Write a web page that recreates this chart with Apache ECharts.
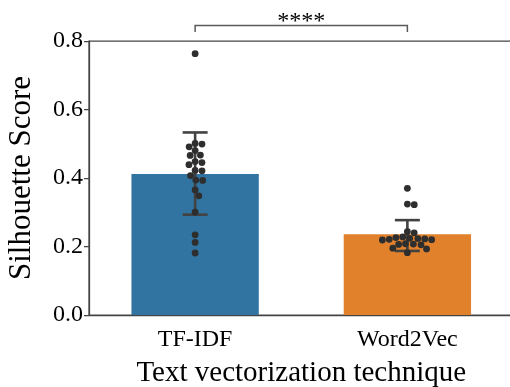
<!DOCTYPE html>
<html><head><meta charset="utf-8">
<script src="https://cdn.jsdelivr.net/npm/echarts@6/dist/echarts.min.js"></script>
<style>html,body{margin:0;padding:0;background:#fff}#c{width:510px;height:387px}</style>
</head><body><div id="c"></div>
<script>
const categories = ['TF-IDF', 'Word2Vec'];
const barMeans = [0.412, 0.236];
const errLow = [0.293, 0.187];
const errHigh = [0.533, 0.277];
const tfidfPoints = [0.763, 0.501, 0.499, 0.491, 0.480, 0.467, 0.466, 0.448, 0.445, 0.439,
  0.422, 0.421, 0.407, 0.394, 0.393, 0.365, 0.348, 0.300, 0.234, 0.212, 0.181];
const word2vecPoints = [0.370, 0.324, 0.322, 0.243, 0.240, 0.226, 0.222, 0.219, 0.224, 0.220,
  0.228, 0.221, 0.223, 0.208, 0.206, 0.207, 0.205, 0.195, 0.193, 0.182];
const yTicks = [0.0, 0.2, 0.4, 0.6, 0.8];
const sigLabel = '****';
const sigLevel = 0.845;
const xName = 'Text vectorization technique';
const yName = 'Silhouette Score';

const barColors = ['#3274a1', '#e1812c'];
const FONT = 'Liberation Serif';
const AX = '#444444';

const chart = echarts.init(document.getElementById('c'), null, {renderer: 'canvas'});

function baseOption(scatterData) {
  return {
    animation: false,
    grid: {left: 89, right: -3.5, top: 41, bottom: 72, containLabel: false, outerBoundsMode: 'none',
      show: true, borderColor: AX, borderWidth: 1.25, backgroundColor: 'transparent'},
    xAxis: [{
      type: 'category', data: categories,
      axisLine: {onZero: false, lineStyle: {color: AX, width: 1.25}},
      axisTick: {alignWithLabel: true, length: 5, lineStyle: {color: AX, width: 1.25}},
      splitLine: {show: false},
      axisLabel: {color: '#000', fontFamily: FONT, fontSize: 24, margin: 13},
      name: xName, nameLocation: 'middle', nameGap: 44,
      nameTextStyle: {color: '#000', fontFamily: FONT, fontSize: 29}
    }, {
      type: 'value', min: -0.5, max: 1.5, show: false,
      splitLine: {show: false}, axisLine: {show: false, onZero: false}, axisTick: {show: false}, axisLabel: {show: false}
    }],
    yAxis: [{
      type: 'value', min: 0, max: 0.8, interval: 0.2,
      axisLine: {show: true, onZero: false, lineStyle: {color: AX, width: 1.25}},
      axisTick: {show: true, length: 5, lineStyle: {color: AX, width: 1.25}},
      splitLine: {show: false},
      axisLabel: {color: '#000', fontFamily: FONT, fontSize: 24, margin: 6,
        formatter: v => v.toFixed(1)},
      name: yName, nameLocation: 'middle', nameGap: 52, nameRotate: 90,
      nameTextStyle: {color: '#000', fontFamily: FONT, fontSize: 31}
    }],
    series: [{
      type: 'bar', xAxisIndex: 0, yAxisIndex: 0, barWidth: '60%',
      data: barMeans.map((v, i) => ({value: v, itemStyle: {color: barColors[i]}})),
      z: 2
    }, {
      type: 'custom', xAxisIndex: 0, yAxisIndex: 0, z: 3,
      data: categories.map((c, i) => [i, errLow[i], errHigh[i]]),
      renderItem: (params, api) => {
        const lo = api.coord([api.value(0), api.value(1)]);
        const hi = api.coord([api.value(0), api.value(2)]);
        const hw = 12.5;
        const st = {stroke: '#424242', lineWidth: 2.6};
        return {type: 'group', children: [
          {type: 'line', shape: {x1: lo[0], y1: lo[1], x2: hi[0], y2: hi[1]}, style: st},
          {type: 'line', shape: {x1: lo[0] - hw, y1: lo[1], x2: lo[0] + hw, y2: lo[1]}, style: st},
          {type: 'line', shape: {x1: hi[0] - hw, y1: hi[1], x2: hi[0] + hw, y2: hi[1]}, style: st}
        ]};
      }
    }, {
      type: 'custom', xAxisIndex: 0, yAxisIndex: 0, z: 3, clip: false,
      data: [[0, 1, sigLevel]],
      renderItem: (params, api) => {
        const a = api.coord([api.value(0), api.value(2)]);
        const b = api.coord([api.value(1), api.value(2)]);
        const drop = 6.5;
        return {type: 'group', children: [
          {type: 'polyline', shape: {points: [[a[0], a[1] + drop], [a[0], a[1]], [b[0], b[1]], [b[0], b[1] + drop]]},
            style: {stroke: '#5a5a5a', lineWidth: 1.5, fill: null}},
          {type: 'text', x: (a[0] + b[0]) / 2, y: a[1] + 8,
            style: {text: sigLabel, font: '24px "' + FONT + '"', fill: '#000', align: 'center', verticalAlign: 'bottom'}}
        ]};
      }
    }, {
      type: 'scatter', xAxisIndex: 1, yAxisIndex: 0, z: 4,
      symbolSize: 6.8, itemStyle: {color: '#2e2e2e', opacity: 1},
      data: scatterData
    }]
  };
}

chart.setOption(baseOption([]));

function swarm(vals, d) {
  const pts = vals.map(v => ({v, y: chart.convertToPixel({yAxisIndex: 0}, v), x: 0}));
  pts.sort((p, q) => q.v - p.v);
  const placed = [];
  for (const p of pts) {
    const cands = [0];
    for (const q of placed) {
      const dy = p.y - q.y;
      if (Math.abs(dy) < d) {
        const dx = Math.sqrt(d * d - dy * dy);
        cands.push(q.x + dx, q.x - dx);
      }
    }
    cands.sort((a, b) => Math.abs(a) - Math.abs(b));
    for (const c of cands) {
      let ok = true;
      for (const q of placed) {
        if ((c - q.x) ** 2 + (p.y - q.y) ** 2 < d * d - 1e-6) { ok = false; break; }
      }
      if (ok) { p.x = c; break; }
    }
    placed.push(p);
  }
  return pts;
}

const pxPerUnit = chart.convertToPixel({xAxisIndex: 1}, 1) - chart.convertToPixel({xAxisIndex: 1}, 0);
const scatterData = [];
[tfidfPoints, word2vecPoints].forEach((vals, gi) => {
  swarm(vals, 6.9).forEach(p => scatterData.push([gi + p.x / pxPerUnit, p.v]));
});
chart.setOption(baseOption(scatterData));
</script></body></html>
